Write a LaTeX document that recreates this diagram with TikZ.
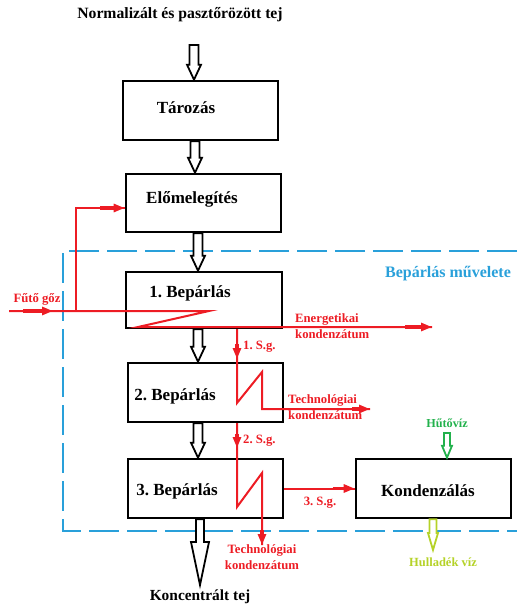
\documentclass[tikz,border=0pt]{standalone}
\usepackage{fontspec}
\setmainfont{Liberation Serif}
\usetikzlibrary{arrows.meta,calc}
\definecolor{pred}{RGB}{237,28,36}
\definecolor{pblue}{RGB}{41,160,218}
\definecolor{pgreen}{RGB}{34,177,76}
\definecolor{plime}{RGB}{181,210,40}
\frenchspacing
% #1 colour, #2 start, #3 end (only y used), #4 shaft half width, #5 head half width, #6 head length
\newcommand\hollowarrow[6]{%
  \draw[#1, line width=1.8pt, fill=white, line join=miter] let \p1=(#2), \p2=(#3) in
  (\x1-#4pt,\y1) -- (\x1+#4pt,\y1) -- (\x1+#4pt,\y2+#6pt) -- (\x1+#5pt,\y2+#6pt) --
  (\x1,\y2) -- (\x1-#5pt,\y2+#6pt) -- (\x1-#4pt,\y2+#6pt) -- cycle;}
\begin{document}
\begin{tikzpicture}[x=1pt,y=-1pt,
  box/.style={draw, line width=2.6pt, inner sep=0pt, minimum width=155pt, minimum height=59pt},
  every label/.style={font=\fontsize{17}{20}\selectfont\bfseries, text=black, inner sep=0pt},
  redline/.style={draw=pred, line width=2pt, line join=miter},
  rarrow/.style={draw=pred, line width=3.5pt, -{Triangle[length=11pt,width=8pt]}},
  redtext/.style={text=pred, font=\fontsize{12.7}{16}\selectfont\bfseries, inner sep=0pt},
  bigtext/.style={font=\fontsize{15.7}{18}\selectfont\bfseries, inner sep=0pt}
]
\useasboundingbox (0,0) rectangle (517,607);

% operation boundary
\draw[pblue, line width=2.2pt, dash pattern=on 30pt off 8pt] (517,251) -- (63,251) -- (63,531) -- (517,531);
\node[text=pblue, font=\fontsize{16}{19}\selectfont\bfseries, inner sep=0pt] (op) at (448,274) {Bepárlás művelete};

% boxes
\node[box, label={[shift={(-14.5,-2.5)}]center:Tározás}] (tar) at (200.5,110.5) {};
\node[box, minimum height=58pt, label={[shift={(-11.5,-4)}]center:Előmelegítés}] (elo) at (203.5,203) {};
\node[box, minimum width=156pt, minimum height=56pt, label={[shift={(-14,-7)}]center:1. Bepárlás}] (b1) at (204,300) {};
\node[box, label={[shift={(-30.5,3.5)}]center:2. Bepárlás}] (b2) at (205.5,392.5) {};
\node[box, label={[shift={(-28.5,2.5)}]center:3. Bepárlás}] (b3) at (205.5,488.5) {};
\node[box, label={[shift={(-5.5,2.5)}]center:Kondenzálás}] (kond) at (433.5,488.5) {};

% texts
\node[bigtext] (title) at (180,15) {Normalizált és pasztőrözött tej};
\node[bigtext, font=\fontsize{15.4}{18}\selectfont\bfseries] (kt) at (200,597) {Koncentrált tej};
\node[redtext] (fgl) at (37,299) {Fűtő gőz};
\node[redtext, anchor=west, align=left] (ekl) at (295,326) {Energetikai\\kondenzátum};
\node[redtext, anchor=west] (sg1) at (243,347) {1. S.g.};
\node[redtext, anchor=west, align=left] (tk1l) at (288,407) {Technológiai\\kondenzátum};
\node[redtext, anchor=west] (sg2) at (243,441) {2. S.g.};
\node[redtext] (sg3) at (320,503) {3. S.g.};
\node[redtext, align=center] (tk2l) at (262,557) {Technológiai\\kondenzátum};
\node[text=pgreen, font=\fontsize{12.2}{15}\selectfont\bfseries, inner sep=0pt] (hut) at (447,423) {Hűtővíz};
\node[text=plime, font=\fontsize{12.5}{15}\selectfont\bfseries, inner sep=0pt] (hul) at (443,562) {Hulladék víz};

% coordinates
\coordinate (a1s) at (194,45);
\coordinate (kte) at (200,585);
\coordinate (hvs) at (447,433);
\coordinate (hve) at (433,550);
\coordinate (fg) at (9,311);
\coordinate (j1) at (76,311);
\coordinate (ek) at (432,327);
\coordinate (s1) at (237,329);
\coordinate (tk1) at (370,409);
\coordinate (s2) at (237,423);
\coordinate (tk2) at (262,545);

% product flow (hollow arrows)
\hollowarrow{black}{a1s}{tar.north}{4.5}{7}{15}
\hollowarrow{black}{$(tar.south)+(-5.5,0)$}{elo.north}{4.5}{7}{15}
\hollowarrow{black}{$(elo.south)+(-5.5,0)$}{b1.north}{4.5}{7}{15}
\hollowarrow{black}{$(b1.south)+(-6,0)$}{b2.north}{4.5}{7}{15}
\hollowarrow{black}{$(b2.south)+(-7.5,0)$}{b3.north}{4.5}{7}{15}
\hollowarrow{black}{$(b3.south)+(-5.5,0)$}{kte}{4}{9}{43}
\hollowarrow{pgreen}{hvs}{kond.north}{3}{5}{12}
\hollowarrow{plime}{$(kond.south)+(-0.5,0)$}{hve}{3.5}{5}{17}

% heating steam and condensates
\draw[redline] (fg) -- (209,311) -- (138,327) -- (ek);
\draw[redline] (j1) |- ($(elo.west)+(0,5)$);
\draw[rarrow] (23,311) -- (53,311);
\draw[rarrow] (100,208) -- ($(elo.west)+(0,5)$);
\draw[rarrow] (405,327) -- (ek);

\draw[redline] (s1) -- (237,403) -- (262,372) -- (262,409) -- (tk1);
\draw[rarrow] (237,344) -- (237,359);
\draw[rarrow] (352,409) -- (tk1);

\draw[redline] (s2) -- (237,507) -- (262,473) -- (tk2);
\draw[rarrow] (237,434) -- (237,448);
\draw[rarrow] (262,530) -- (tk2);

\draw[redline] (b3.east) -- (kond.west);
\draw[rarrow] ($(kond.west)+(-22,0)$) -- (kond.west);
\end{tikzpicture}
\end{document}
